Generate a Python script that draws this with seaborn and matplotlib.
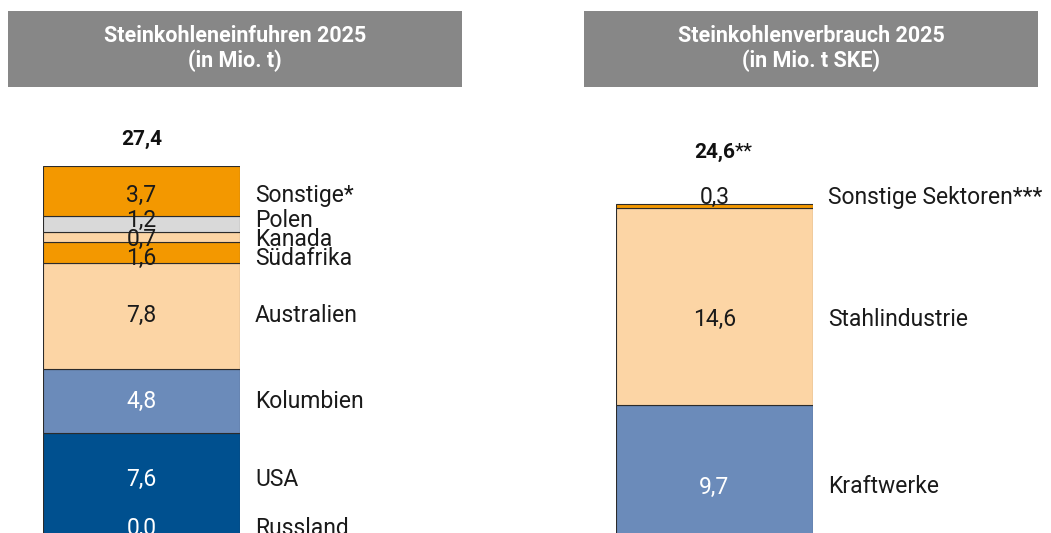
import matplotlib
matplotlib.use("Agg")
import matplotlib.pyplot as plt
import seaborn as sns
from matplotlib.patches import Rectangle
from matplotlib import font_manager

# Daten: Steinkohleneinfuhren 2025 (Mio. t), von unten nach oben
import_laender = ['Russland', 'USA', 'Kolumbien', 'Australien', 'Südafrika', 'Kanada', 'Polen', 'Sonstige*']
import_werte = [0.0, 7.6, 4.8, 7.8, 1.6, 0.7, 1.2, 3.7]
import_farben = ['#00508F', '#00508F', '#6B8BBA', '#FCD5A5', '#F39800', '#FCD5A5', '#D9D9D9', '#F39800']
import_gesamt = '27,4'

# Daten: Steinkohlenverbrauch 2025 (Mio. t SKE), von unten nach oben
verbrauch_sektoren = ['Kraftwerke', 'Stahlindustrie', 'Sonstige Sektoren***']
verbrauch_werte = [9.7, 14.6, 0.3]
verbrauch_farben = ['#6B8BBA', '#FCD5A5', '#F39800']
verbrauch_gesamt = '24,6'

# kleine Verschiebungen der Beschriftungen (in Mio. t) gegenüber der Segmentmitte
import_versatz = [0.56, 0.42, -0.07, 0.0, -0.48, -0.22, 0.24, -0.3]
verbrauch_versatz = [-1.22, -0.96, 0.63]

dunkel = ['#00508F', '#6B8BBA']


def font_da(name):
    try:
        font_manager.findfont(name, fallback_to_default=False)
        return True
    except ValueError:
        return False


sns.set_theme(style='white')
plt.rcParams['font.family'] = ['Roboto', 'DejaVu Sans']
if font_da('Liberation Sans Narrow'):
    titel_font, titel_size = 'Liberation Sans Narrow', 16
else:
    titel_font, titel_size = 'Roboto', 15.5

W, H = 1051, 533
fig = plt.figure(figsize=(W / 100, H / 100), dpi=100)
fig.patch.set_facecolor('white')

# graue Kopfboxen
for x0, x1, zeile1, zeile2 in [(8, 462, 'Steinkohleneinfuhren 2025', '(in Mio. t)'),
                               (584, 1038, 'Steinkohlenverbrauch 2025', '(in Mio. t SKE)')]:
    fig.patches.append(Rectangle((x0 / W, 1 - 87 / H), (x1 - x0) / W, 76 / H,
                                 transform=fig.transFigure, facecolor='#878787', edgecolor='none'))
    xm = (x0 + x1) / 2 / W
    fig.text(xm, 1 - 36 / H, zeile1, ha='center', va='center', color='white',
             fontsize=titel_size, fontweight='bold', family=[titel_font, 'DejaVu Sans'])
    fig.text(xm, 1 - 61 / H, zeile2, ha='center', va='center', color='white',
             fontsize=titel_size, fontweight='bold', family=[titel_font, 'DejaVu Sans'])

ymax = sum(import_werte)


def saeule(ax, namen, werte, farben, versatz, gesamt, gesamt_abstand, sterne):
    basis = 0.0
    for name, wert, farbe, dy in zip(namen, werte, farben, versatz):
        sns.barplot(x=['a'], y=[wert], bottom=basis, color=farbe, width=1,
                    edgecolor='#2b2b2b', linewidth=0.8, saturation=1, ax=ax)
        mitte = basis + wert / 2 + dy
        textfarbe = 'white' if farbe in dunkel else '#1a1a1a'
        ax.text(0, mitte, f'{wert:.1f}'.replace('.', ','), ha='center', va='center',
                fontsize=16.5, color=textfarbe, clip_on=False)
        ax.text(0.5 + 0.076, mitte, name, ha='left', va='center', fontsize=16.5,
                color='#1a1a1a', clip_on=False)
        basis += wert
    t = ax.annotate(gesamt, xy=(0, basis), xytext=(0, gesamt_abstand), textcoords='offset points',
                    ha='center', va='center', fontsize=15, fontweight='bold', color='#111111',
                    annotation_clip=False)
    if sterne:
        ax.annotate(sterne, xy=(1, 0.5), xycoords=t, ha='left', va='center',
                    fontsize=15, color='#111111', annotation_clip=False)
    ax.set_xlim(-0.5, 0.5)
    ax.set_ylim(0, ymax)
    ax.axis('off')


ax1 = fig.add_axes([43 / W, -3 / H, 197 / W, 370 / H])
saeule(ax1, import_laender, import_werte, import_farben, import_versatz, import_gesamt, 19, '')

ax2 = fig.add_axes([616 / W, -3 / H, 197 / W, 370 / H])
saeule(ax2, verbrauch_sektoren, verbrauch_werte, verbrauch_farben, verbrauch_versatz,
       verbrauch_gesamt, 37, '**')

fig.savefig('out.png', dpi=100)
